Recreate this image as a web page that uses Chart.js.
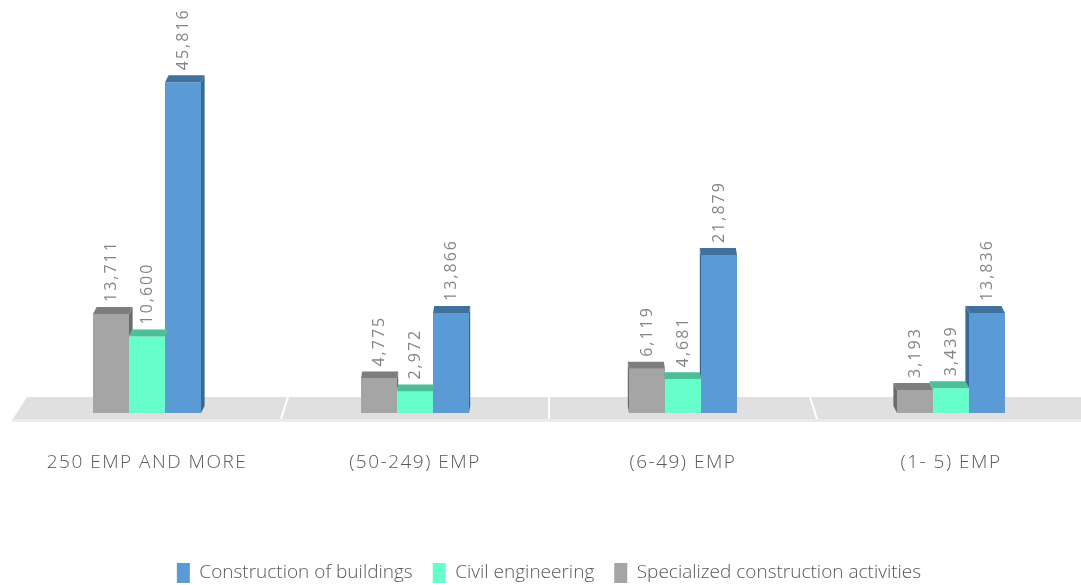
<!DOCTYPE html>
<html>
<head>
<meta charset="utf-8">
<script src="https://cdn.jsdelivr.net/npm/chart.js@4.4.0/dist/chart.umd.min.js"></script>
<style>
  html, body { margin: 0; padding: 0; background: #fff; overflow: hidden; }
  #wrap { width: 1085px; height: 593px; position: relative; }
</style>
</head>
<body>
<div id="wrap"><canvas id="chart"></canvas></div>
<script>
// data
const categories = ['250 EMP AND MORE', '(50-249) EMP', '(6-49) EMP', '(1- 5) EMP'];
const specialized = [13711, 4775, 6119, 3193];
const civil = [10600, 2972, 4681, 3439];
const buildings = [45816, 13866, 21879, 13836];

// front / top / side colours per series (gray, green, blue)
const frontColors = ['#a5a5a5', '#66ffcc', '#5b9bd5'];
const topColors = ['#7d7d7d', '#4dbe96', '#41719c'];
const sideColors = ['#6c6c6c', '#44a983', '#3a6891'];

function poly(ctx, pts, color) {
  ctx.beginPath();
  ctx.moveTo(pts[0][0], pts[0][1]);
  for (let k = 1; k < pts.length; k++) ctx.lineTo(pts[k][0], pts[k][1]);
  ctx.closePath();
  ctx.fillStyle = color;
  ctx.fill();
}

// grey perspective floor under the bars
const floorPlugin = {
  id: 'floor',
  beforeDatasetsDraw(chart) {
    const { ctx, chartArea, scales: { x, y } } = chart;
    const mid = (chartArea.left + chartArea.right) / 2;
    const base = y.getPixelForValue(0);
    const top = base - 16, bot = base + 6;
    const back = (bx) => bx + (mid - bx) * 0.026;
    ctx.save();
    poly(ctx, [[chartArea.left, bot], [back(chartArea.left), top], [chart.width + 20, top], [chart.width + 20, bot]], '#e0e0e0');
    ctx.fillStyle = '#ebebeb';
    ctx.fillRect(chartArea.left - 1, bot, chart.width, 3);
    ctx.strokeStyle = '#ffffff';
    ctx.lineWidth = 2;
    for (let i = 1; i < categories.length; i++) {
      const bx = (x.getPixelForValue(i - 1) + x.getPixelForValue(i)) / 2;
      ctx.beginPath();
      ctx.moveTo(bx, bot);
      ctx.lineTo(back(bx), top);
      ctx.stroke();
    }
    ctx.restore();
  }
};

// 3d top and side faces, value labels, category labels
const facesPlugin = {
  id: 'faces',
  afterDatasetsDraw(chart) {
    const { ctx, chartArea } = chart;
    const mid = (chartArea.left + chartArea.right) / 2;
    const n = chart.data.datasets.length;
    ctx.save();
    categories.forEach((c, i) => {
      const bars = chart.data.datasets.map((d, j) => chart.getDatasetMeta(j).data[i]);
      const cx = (bars[0].x + bars[n - 1].x) / 2;
      const dx = (mid - cx) * 0.009;
      const dy = -7;
      bars.forEach((b, j) => {
        const l = b.x - b.width / 2, r = b.x + b.width / 2, t = b.y;
        if (dx > 0) {
          const nb = bars[j + 1];
          const lower = nb ? nb.y : b.base;
          if (lower > t) poly(ctx, [[r, t], [r + dx, t + dy], [r + dx, lower + dy], [r, lower]], sideColors[j]);
        } else {
          const nb = bars[j - 1];
          const lower = nb ? nb.y : b.base;
          if (lower > t) poly(ctx, [[l, t], [l + dx, t + dy], [l + dx, lower + dy], [l, lower]], sideColors[j]);
        }
        poly(ctx, [[l, t], [r, t], [r + dx, t + dy], [l + dx, t + dy]], topColors[j]);
      });
      // rotated value labels
      bars.forEach((b, j) => {
        const v = chart.data.datasets[j].data[i];
        ctx.save();
        ctx.translate(b.x, b.y - 12);
        ctx.rotate(-Math.PI / 2);
        ctx.font = '16px "Open Sans"';
        ctx.letterSpacing = '2px';
        ctx.fillStyle = '#858585';
        ctx.textAlign = 'left';
        ctx.textBaseline = 'middle';
        ctx.fillText(v.toLocaleString('en-US'), 0, 0);
        ctx.restore();
      });
    });
    ctx.restore();
  },
  afterDraw(chart) {
    const { ctx, scales: { x } } = chart;
    ctx.save();
    ctx.font = '300 19px "Open Sans"';
    ctx.letterSpacing = '1.5px';
    ctx.fillStyle = '#595959';
    ctx.textAlign = 'center';
    ctx.textBaseline = 'middle';
    categories.forEach((c, i) => {
      ctx.fillText(c, x.getPixelForValue(i), x.top + 50);
    });
    ctx.restore();
  }
};

new Chart(document.getElementById('chart'), {
  type: 'bar',
  data: {
    labels: categories,
    datasets: [
      { label: 'Specialized construction activities', data: specialized, backgroundColor: frontColors[0] },
      { label: 'Civil engineering', data: civil, backgroundColor: frontColors[1] },
      { label: 'Construction of buildings', data: buildings, backgroundColor: frontColors[2] }
    ]
  },
  options: {
    responsive: true,
    maintainAspectRatio: false,
    animation: false,
    datasets: {
      bar: { barPercentage: 1, categoryPercentage: 0.403, borderWidth: 0 }
    },
    layout: { padding: { top: 52, left: 13, right: 0, bottom: 0 } },
    plugins: {
      legend: {
        position: 'bottom',
        reverse: true,
        labels: {
          boxWidth: 13,
          boxHeight: 20,
          padding: 20,
          color: '#595959',
          font: { family: '"Open Sans"', size: 19, weight: 300 }
        }
      },
      tooltip: { enabled: false }
    },
    scales: {
      x: {
        grid: { display: false },
        border: { display: false },
        ticks: { display: false },
        afterFit: (s) => { s.height = 130; }
      },
      y: {
        display: false,
        min: 0,
        max: 50000
      }
    }
  },
  plugins: [floorPlugin, facesPlugin]
});
</script>
</body>
</html>
